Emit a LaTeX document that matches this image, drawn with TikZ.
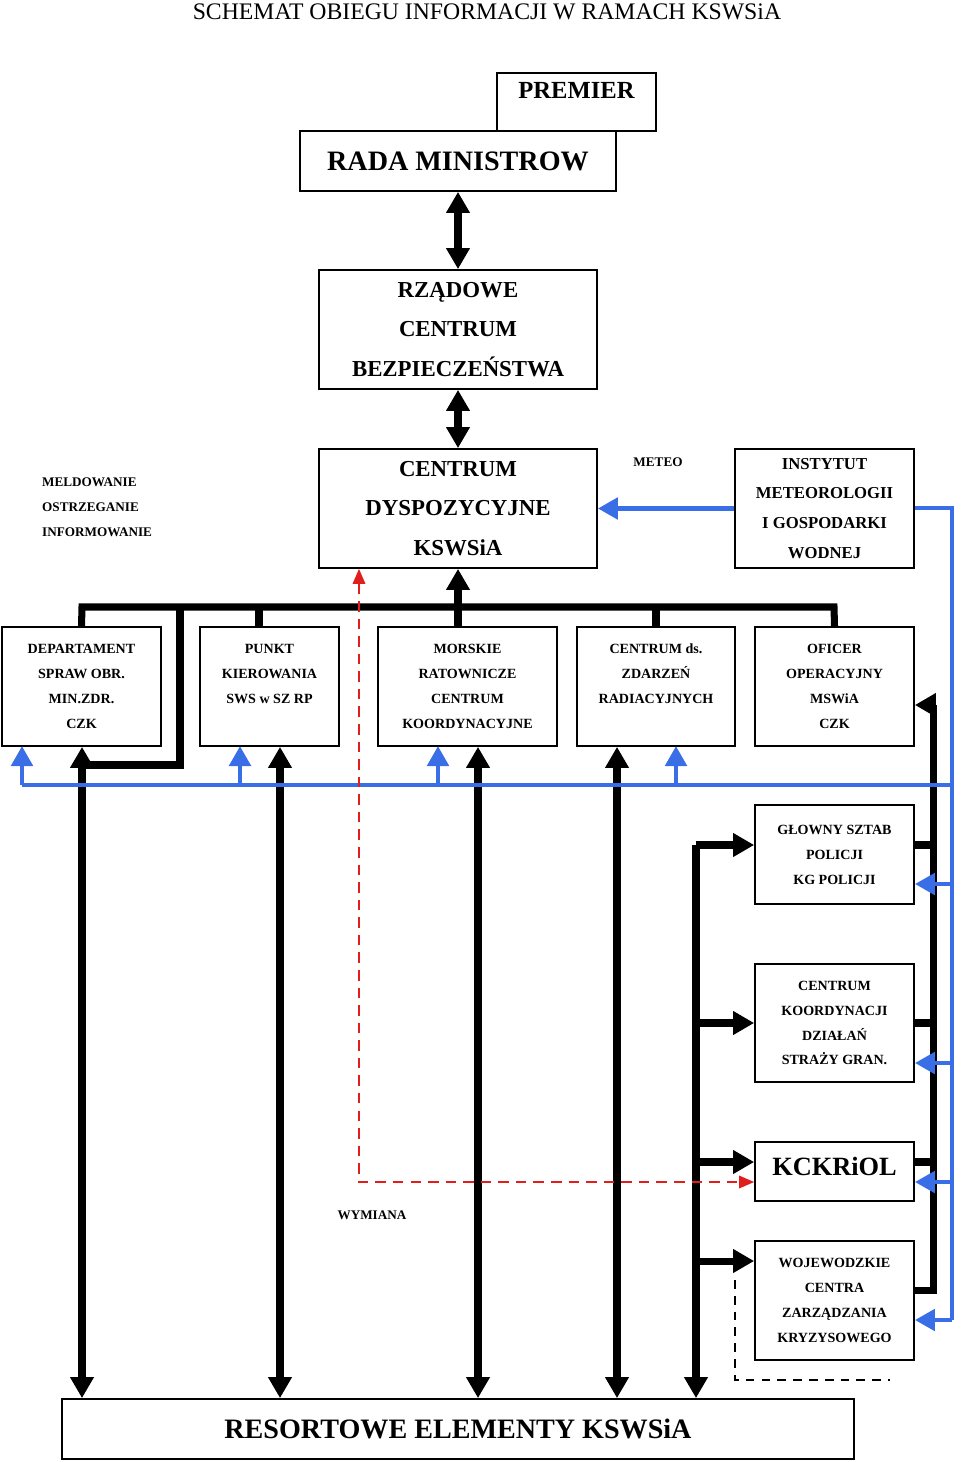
\documentclass[tikz,border=0pt]{standalone}
\usepackage{fontspec}
\setmainfont{Liberation Serif}
\usetikzlibrary{arrows.meta}
\definecolor{infoblue}{RGB}{58,110,230}
\definecolor{exred}{RGB}{225,30,30}
\tikzset{
  box/.style={draw, line width=1pt, align=center, font=\bfseries, inner sep=0pt},
  small/.style={box, font=\bfseries\fontsize{8}{14.2}\selectfont},
  flow/.style={line width=4pt, -{Triangle[length=0.42cm,width=0.45cm]}},
  both/.style={flow, {Triangle[length=0.42cm,width=0.45cm]}-{Triangle[length=0.42cm,width=0.45cm]}},
  bus/.style={line width=4pt},
  info/.style={line width=2.8pt, infoblue, -{Triangle[length=0.4cm,width=0.42cm]}},
  swap/.style={exred, line width=1pt, dash pattern=on 6pt off 4pt, {Triangle[length=0.3cm,width=0.25cm]}-{Triangle[length=0.3cm,width=0.25cm]}}
}
\begin{document}
\begin{tikzpicture}[x=0.02cm, y=-0.02cm]
    \useasboundingbox (0,0) rectangle (960,1462);
    
    \node[font=\fontsize{13.5}{16}\selectfont] (title) at (487,12) {SCHEMAT OBIEGU INFORMACJI W RAMACH KSWSiA};
    
    % top of the chain
    \node[box, minimum width=3.18cm, minimum height=1.16cm, font=\bfseries\fontsize{14}{16}\selectfont] (premier) at (576.5,102) {\raisebox{0.45cm}{PREMIER}};
    \node[box, fill=white, minimum width=6.32cm, minimum height=1.2cm, font=\bfseries\fontsize{16}{18}\selectfont] (rada) at (458,161) {RADA MINISTROW};
    \node[box, minimum width=5.56cm, minimum height=2.38cm, font=\bfseries\fontsize{13}{22.7}\selectfont] (rcb) at (458,329.5) {RZĄDOWE\\CENTRUM\\BEZPIECZEŃSTWA};
    \node[box, minimum width=5.56cm, minimum height=2.38cm, font=\bfseries\fontsize{13}{22.7}\selectfont] (cd) at (458,508.5) {CENTRUM\\DYSPOZYCYJNE\\KSWSiA};
    \node[box, minimum width=3.58cm, minimum height=2.38cm, font=\bfseries\fontsize{9.5}{17}\selectfont] (imgw) at (824.5,508.5) {INSTYTUT\\METEOROLOGII\\I GOSPODARKI\\WODNEJ};
    \node[font=\bfseries\fontsize{7.5}{14.2}\selectfont, align=left, anchor=west] (meld) at (36,507.5) {MELDOWANIE\\OSTRZEGANIE\\INFORMOWANIE};
    \node[font=\bfseries\fontsize{7.5}{9}\selectfont] (meteo) at (658,462) {METEO};
    
    \draw[both] (rada) -- (rcb);
    \draw[both] (rcb) -- (cd);
    \draw[info] (imgw) -- (cd);
    
    % row of services
    \node[small, minimum width=3.18cm, minimum height=2.38cm] (dep) at (81.5,686.5) {DEPARTAMENT\\SPRAW OBR.\\MIN.ZDR.\\CZK};
    \node[small, minimum width=2.78cm, minimum height=2.38cm] (punkt) at (269.5,686.5) {PUNKT\\KIEROWANIA\\SWS w SZ RP\\\mbox{}};
    \node[small, minimum width=3.58cm, minimum height=2.38cm] (mrcc) at (467.5,686.5) {MORSKIE\\RATOWNICZE\\CENTRUM\\KOORDYNACYJNE};
    \node[small, minimum width=3.16cm, minimum height=2.38cm] (czr) at (656,686.5) {CENTRUM ds.\\ZDARZEŃ\\RADIACYJNYCH\\\mbox{}};
    \node[small, minimum width=3.18cm, minimum height=2.38cm] (oficer) at (834.5,686.5) {OFICER\\OPERACYJNY\\MSWiA\\CZK};
    
    % right column
    \node[small, minimum width=3.18cm, minimum height=1.98cm] (policja) at (834.5,854.5) {GŁOWNY SZTAB\\POLICJI\\KG POLICJI};
    \node[small, minimum width=3.18cm, minimum height=2.36cm] (sg) at (834.5,1023) {CENTRUM\\KOORDYNACJI\\DZIAŁAŃ\\STRAŻY GRAN.};
    \node[box, minimum width=3.18cm, minimum height=1.18cm, font=\bfseries\fontsize{15}{17}\selectfont] (kckriol) at (834.5,1171.5) {\raisebox{0.2cm}{KCKRiOL}};
    \node[small, minimum width=3.18cm, minimum height=2.38cm] (wczk) at (834.5,1300.5) {WOJEWODZKIE\\CENTRA\\ZARZĄDZANIA\\KRYZYSOWEGO};
    \node[box, minimum width=15.84cm, minimum height=1.2cm, font=\bfseries\fontsize{16}{18}\selectfont] (resort) at (458,1429) {RESORTOWE ELEMENTY KSWSiA};
    \node[font=\bfseries\fontsize{7.5}{9}\selectfont] (wym) at (372,1215) {WYMIANA};
    
    % black bus from the centre
    \coordinate (busl) at (82,607);
    \coordinate (busr) at (834,607);
    \draw[bus] (dep.north) -- (busl) -- (busr) -- (oficer.north);
    \draw[bus] (259,0 |- busl) -- (259,0 |- punkt.north);
    \draw[bus] (656,0 |- busl) -- (czr.north);
    \draw[flow] (458,0 |- mrcc.north) -- (cd.south);
    \draw[bus] (180,0 |- busl) -- (180,765) -- (82,765);
    
    % downward lines to the resort elements
    \foreach \x/\b in {82/dep, 280/punkt, 478/mrcc, 617/czr}
        \draw[both] (\x,0 |- \b.south) -- (\x,0 |- resort.north);
    \draw[flow] (696,845) -- (696,0 |- resort.north);
    \foreach \b/\y in {policja/845, sg/1023, kckriol/1162, wczk/1261}
        \draw[flow] (696,\y) -- (\b.west |- 0,\y);
    
    % reporting line to the operations officer
    \coordinate (rep) at (933,1290);
    \draw[bus] (wczk.east |- rep) -- (rep) -- (933,705);
    \draw[flow] (933,705) -- (oficer.east |- 0,705);
    \foreach \b/\y in {policja/845, sg/1023, kckriol/1162}
        \draw[bus] (\b.east |- 0,\y) -- (933,\y);
    
    % blue information lines
    \coordinate (bl) at (952,508);
    \coordinate (bb) at (952,1320);
    \draw[line width=2.8pt, infoblue] (imgw.east |- bl) -- (bl) -- (bb);
    \draw[line width=2.8pt, infoblue] (22,785) -- (952,785);
    \foreach \x in {22, 240, 438, 676}
        \draw[info] (\x,785) -- (\x,746);
    \foreach \b/\y in {policja/884, sg/1063, kckriol/1182, wczk/1320}
        \draw[info] (952,\y) -- (\b.east |- 0,\y);
    
    % exchange lines
    \draw[swap] (359,0 |- cd.south) -- (359,1182) -- (kckriol.west |- 0,1182);
    \draw[line width=1pt, dash pattern=on 5pt off 4pt] (735,1280) -- (735,1380) -- (890,1380);
\end{tikzpicture}
\end{document}
